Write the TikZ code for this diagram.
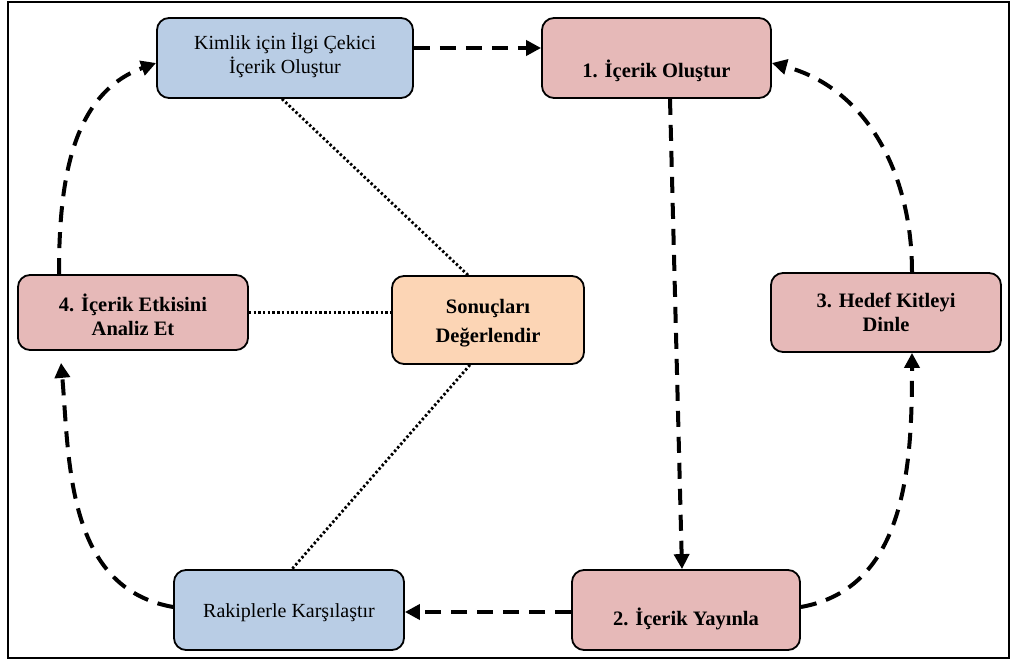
\documentclass[tikz,border=0pt]{standalone}
\usepackage{fontspec}
\setmainfont{Liberation Serif}
\usetikzlibrary{arrows.meta}
\definecolor{boxblue}{HTML}{B9CDE5}
\definecolor{boxpink}{HTML}{E6B9B8}
\definecolor{boxpeach}{HTML}{FCD5B5}
\begin{document}
\begin{tikzpicture}[x=1pt,y=1pt,
  card/.style={draw=black, line width=1.8pt, rounded corners=12pt, inner sep=0pt},
  txt/.style={font=\fontsize{20}{24}\selectfont, align=center, inner sep=0pt},
  btxt/.style={font=\fontsize{20.5}{24}\selectfont\bfseries, align=center, inner sep=0pt},
  flow/.style={line width=4pt, dash pattern=on 16pt off 10pt, -{Triangle[length=15pt,width=15pt]}},
  link/.style={line width=2.8pt, dash pattern=on 2.4pt off 2.3pt}
]
\useasboundingbox (0,0) rectangle (1012,661);
\draw[line width=2pt] (8,2.5) rectangle (1009,658.5);

\node[card, fill=boxblue, minimum width=256pt, minimum height=80pt] (K) at (285,603) {};
\node[txt] (Kt) at (285,606) {Kimlik için İlgi Çekici\\İçerik Oluştur};

\node[card, fill=boxpink, minimum width=229pt, minimum height=80pt] (B1) at (656.5,603) {};
\node[btxt] (B1t) at (656.5,590) {1. İçerik Oluştur};

\node[card, fill=boxpink, minimum width=230pt, minimum height=75pt] (B4) at (133,348.5) {};
\node[btxt] (B4t) at (133,346) {4. İçerik Etkisini\\Analiz Et};

\node[card, fill=boxpeach, minimum width=192pt, minimum height=88pt] (S) at (488,341) {};
\node[btxt] (St) at (488,338) {Sonuçları\\[5pt]Değerlendir};

\node[card, fill=boxpink, minimum width=230pt, minimum height=79pt] (B3) at (886,348.5) {};
\node[btxt] (B3t) at (886,349) {3. Hedef Kitleyi\\Dinle};

\node[card, fill=boxblue, minimum width=230pt, minimum height=80pt] (R) at (289,51) {};
\node[txt] (Rt) at (289,48) {Rakiplerle Karşılaştır};

\node[card, fill=boxpink, minimum width=228pt, minimum height=80pt] (B2) at (686,51) {};
\node[btxt] (B2t) at (686,42) {2. İçerik Yayınla};

\draw[flow] ([yshift=10pt]K.east) -- ([yshift=10pt]B1.west);
\draw[flow] ([xshift=13.5pt]B1.south) -- ([xshift=-4pt]B2.north);
\draw[flow] ([yshift=-2pt]B2.west) -- ([yshift=-2pt]R.east);
\draw[flow] ([yshift=3pt]B2.east) to[out=10,in=-90] ([xshift=26pt]B3.south);
\draw[flow] ([xshift=26pt]B3.north) to[out=90,in=-15] ([yshift=-5pt]B1.east);
\draw[flow, shorten >=12pt] ([yshift=3pt]R.west) to[out=170,in=-85] ([xshift=-73pt]B4.south);
\draw[flow] ([xshift=-74pt]B4.north) to[out=90,in=200] ([yshift=-5pt]K.west);

\draw[link] ([xshift=-3pt]K.south) -- ([xshift=-20pt]S.north);
\draw[link] (B4.east) -- (S.west |- B4.east);
\draw[link] ([xshift=-18pt]S.south) -- ([xshift=3pt]R.north);
\end{tikzpicture}
\end{document}
